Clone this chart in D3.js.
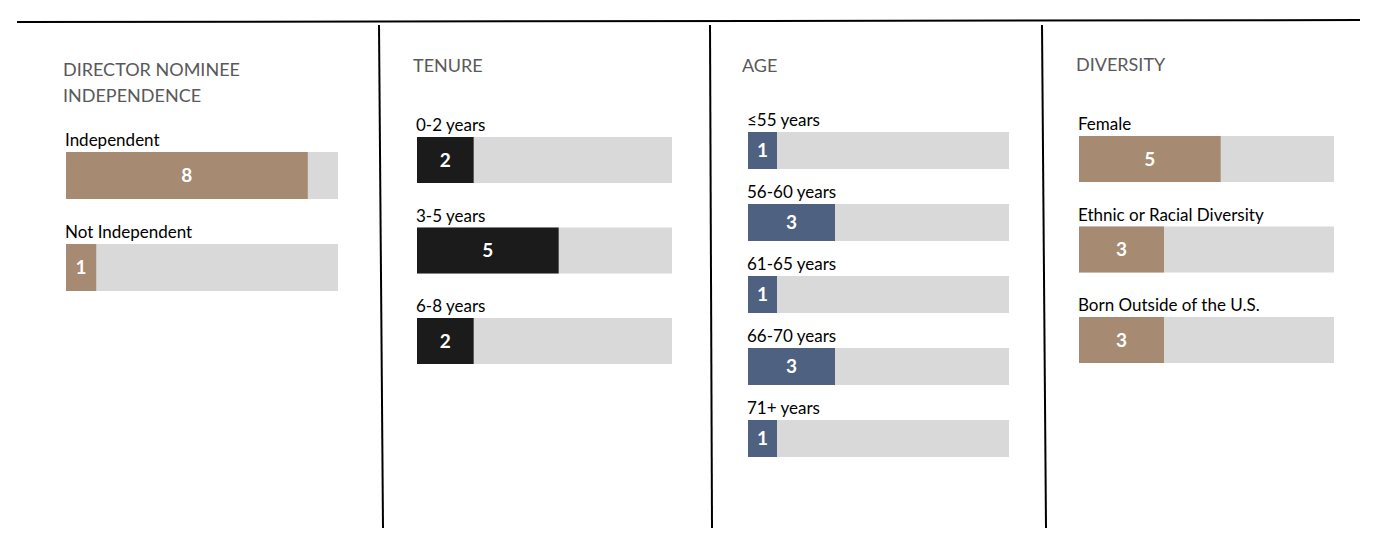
<!DOCTYPE html>
<html>
<head>
<meta charset="utf-8">
<script src="https://cdn.jsdelivr.net/npm/d3@7"></script>
<style>
  html, body { margin: 0; padding: 0; background: #ffffff; }
  svg { display: block; }
</style>
</head>
<body>
<svg id="chart" width="1376" height="543"></svg>
<script>
// ---------- data ----------
const totalDirectors = 9;

const panelTitles = [
  ["DIRECTOR NOMINEE", "INDEPENDENCE"],
  ["TENURE"],
  ["AGE"],
  ["DIVERSITY"]
];

const independenceCategories = ["Independent", "Not Independent"];
const independenceValues = [8, 1];

const tenureCategories = ["0-2 years", "3-5 years", "6-8 years"];
const tenureValues = [2, 5, 2];

const ageCategories = ["\u226455 years", "56-60 years", "61-65 years", "66-70 years", "71+ years"];
const ageValues = [1, 3, 1, 3, 1];

const diversityCategories = ["Female", "Ethnic or Racial Diversity", "Born Outside of the U.S."];
const diversityValues = [5, 3, 3];

// ---------- layout / style ----------
const FONT = "Lato, 'Open Sans', sans-serif";
const BG_GRAY = "#d9d9d9";

const panels = [
  { title: panelTitles[0], cats: independenceCategories, vals: independenceValues,
    color: "#a68a72", titleX: 63, titleY: 76, x0: 66, w: 272, top: 152, step: 92, h: 47 },
  { title: panelTitles[1], cats: tenureCategories, vals: tenureValues,
    color: "#1b1b1b", titleX: 413, titleY: 72, x0: 417, w: 255, top: 137, step: 90.5, h: 46 },
  { title: panelTitles[2], cats: ageCategories, vals: ageValues,
    color: "#4f6180", titleX: 742, titleY: 72, x0: 748, w: 261, top: 132, step: 72, h: 37 },
  { title: panelTitles[3], cats: diversityCategories, vals: diversityValues,
    color: "#a68a72", titleX: 1076, titleY: 71, x0: 1079, w: 255, top: 136, step: 90.5, h: 46 }
];

const svg = d3.select("#chart");

// frame lines
svg.append("line").attr("x1", 17).attr("y1", 22).attr("x2", 1360).attr("y2", 20)
  .attr("stroke", "#000").attr("stroke-width", 2);
const dividers = [[379, 25, 383, 528], [710, 25, 712, 528], [1042, 25, 1046, 528]];
svg.selectAll("line.div").data(dividers).join("line").attr("class", "div")
  .attr("x1", d => d[0]).attr("y1", d => d[1]).attr("x2", d => d[2]).attr("y2", d => d[3])
  .attr("stroke", "#000").attr("stroke-width", 2);

panels.forEach(p => {
  const g = svg.append("g");
  const n = p.cats.length;
  const pad = 1 - p.h / p.step;
  const y = d3.scaleBand().domain(p.cats)
    .range([p.top, p.top + p.step * (n - pad)])
    .paddingInner(pad).paddingOuter(0);
  const x = d3.scaleLinear().domain([0, totalDirectors]).range([p.x0, p.x0 + p.w]);

  // title
  g.selectAll("text.title").data(p.title).join("text").attr("class", "title")
    .attr("x", p.titleX).attr("y", (d, i) => p.titleY + i * 26)
    .attr("font-family", FONT).attr("font-size", 18).attr("fill", "#595959")
    .text(d => d);

  const rows = p.cats.map((c, i) => ({ cat: c, val: p.vals[i] }));

  // background track
  g.selectAll("rect.bg").data(rows).join("rect").attr("class", "bg")
    .attr("x", x(0)).attr("y", d => y(d.cat))
    .attr("width", x(totalDirectors) - x(0)).attr("height", y.bandwidth())
    .attr("fill", BG_GRAY);

  // value bar
  g.selectAll("rect.bar").data(rows).join("rect").attr("class", "bar")
    .attr("x", x(0)).attr("y", d => y(d.cat))
    .attr("width", d => x(d.val) - x(0)).attr("height", y.bandwidth())
    .attr("fill", p.color);

  // category label
  g.selectAll("text.cat").data(rows).join("text").attr("class", "cat")
    .attr("x", x(0) - 1).attr("y", d => y(d.cat) - 6)
    .attr("font-family", FONT).attr("font-size", 17).attr("fill", "#000")
    .text(d => d.cat);

  // value label
  g.selectAll("text.val").data(rows).join("text").attr("class", "val")
    .attr("x", d => (x(0) + x(d.val)) / 2).attr("y", d => y(d.cat) + y.bandwidth() / 2)
    .attr("dy", "0.36em").attr("text-anchor", "middle")
    .attr("font-family", FONT).attr("font-size", 19).attr("font-weight", 700)
    .attr("fill", "#ffffff")
    .text(d => d.val);
});
</script>
</body>
</html>
